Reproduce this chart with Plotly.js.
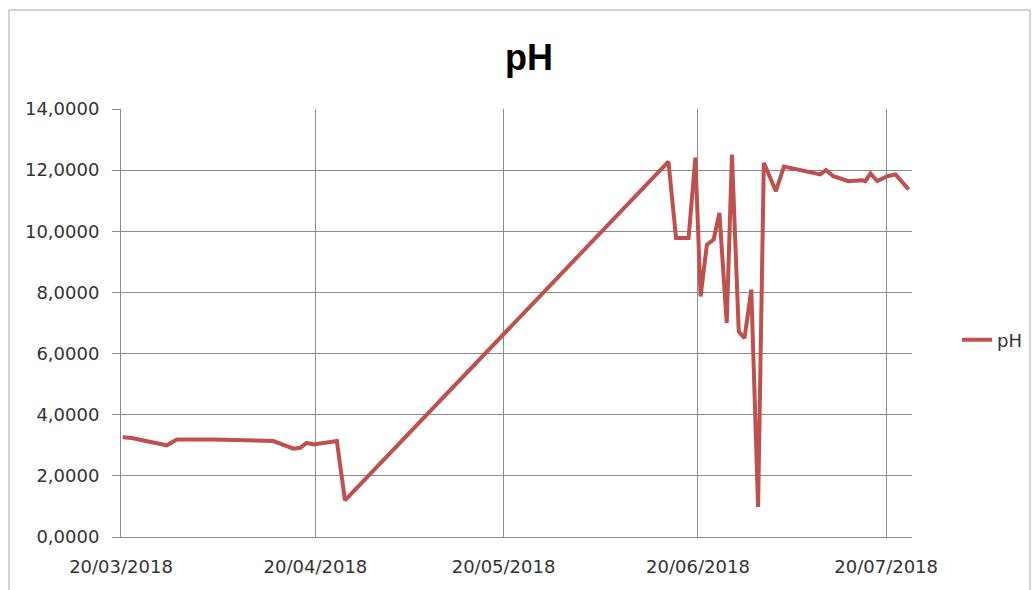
<!DOCTYPE html>
<html>
<head>
<meta charset="utf-8">
<script src="https://cdn.plot.ly/plotly-3.0.1.min.js"></script>
<style>
  html, body { margin: 0; padding: 0; background: #fff; }
  #chart { width: 1033px; height: 590px; }
</style>
</head>
<body>
<div id="chart"></div>
<script>
const dates = [
  '2018-03-20 07:00', '2018-03-21 17:00', '2018-03-27 07:00', '2018-03-28 22:00',
  '2018-04-03 17:00', '2018-04-13 07:00', '2018-04-16 12:00', '2018-04-17 14:00',
  '2018-04-18 14:00', '2018-04-19 17:00', '2018-04-23 10:00', '2018-04-24 17:00',
  '2018-06-15 07:00', '2018-06-16 12:00', '2018-06-18 12:00', '2018-06-19 14:00',
  '2018-06-20 10:00', '2018-06-21 10:00', '2018-06-22 12:00', '2018-06-23 10:00',
  '2018-06-24 14:00', '2018-06-25 10:00', '2018-06-26 12:00', '2018-06-27 10:00',
  '2018-06-28 12:00', '2018-06-29 14:00', '2018-06-30 12:00', '2018-07-02 10:00',
  '2018-07-03 17:00', '2018-07-06 07:00', '2018-07-09 12:00', '2018-07-10 10:00',
  '2018-07-11 14:00', '2018-07-14 00:00', '2018-07-16 05:00', '2018-07-16 17:00',
  '2018-07-17 12:00', '2018-07-18 14:00', '2018-07-20 05:00', '2018-07-21 12:00',
  '2018-07-23 14:00'
];
// pH values
const phValues = [
  3.26, 3.24, 3.00, 3.19,
  3.19, 3.14, 2.89, 2.92,
  3.08, 3.03, 3.14, 1.20,
  12.28, 9.78, 9.78, 12.41,
  7.87, 9.56, 9.73, 10.60,
  7.00, 12.51, 6.72, 6.50,
  8.09, 0.98, 12.24, 11.31,
  12.12, 12.00, 11.86, 12.00,
  11.80, 11.64, 11.67, 11.64,
  11.89, 11.64, 11.80, 11.86,
  11.37
];
const seriesName = 'pH';
const chartTitle = 'pH';
const yTickVals = [0, 2, 4, 6, 8, 10, 12, 14];
const yTickText = ['0,0000', '2,0000', '4,0000', '6,0000', '8,0000', '10,0000', '12,0000', '14,0000'];
const xRange = ['2018-03-20', '2018-07-24 03:00'];

const trace = {
  x: dates,
  y: phValues,
  type: 'scatter',
  mode: 'lines',
  name: seriesName,
  line: { color: '#C0504D', width: 4 }
};

const gridCol = '#8c8c8c';
const tickFont = { family: 'DejaVu Sans, Verdana, sans-serif', size: 18, color: '#333333' };

const layout = {
  width: 1033,
  height: 590,
  paper_bgcolor: '#ffffff',
  plot_bgcolor: '#ffffff',
  margin: { l: 121, r: 121, t: 109, b: 53, autoexpand: false },
  title: {
    text: '<b>' + chartTitle + '</b>',
    font: { family: 'Liberation Sans, Arial, sans-serif', size: 36, color: '#000000' },
    x: 529 / 1033,
    xref: 'container',
    xanchor: 'center',
    y: 1 - 57 / 590,
    yref: 'container',
    yanchor: 'middle'
  },
  xaxis: {
    type: 'date',
    range: xRange,
    tick0: '2018-03-20',
    dtick: 'M1',
    tickformat: '%d/%m/%Y',
    showgrid: true,
    gridcolor: gridCol,
    gridwidth: 1,
    showline: true,
    linecolor: gridCol,
    linewidth: 1,
    ticks: '',
    tickfont: tickFont,
    ticklabelstandoff: 13,
    zeroline: false,
    fixedrange: true
  },
  yaxis: {
    range: [0, 14],
    tickvals: yTickVals,
    ticktext: yTickText,
    showgrid: true,
    gridcolor: gridCol,
    gridwidth: 1,
    showline: true,
    linecolor: gridCol,
    linewidth: 1,
    ticks: 'outside',
    ticklen: 8,
    tickcolor: gridCol,
    tickfont: tickFont,
    ticklabelstandoff: 9,
    zeroline: false,
    fixedrange: true
  },
  showlegend: true,
  legend: {
    x: 1.057,
    xanchor: 'left',
    y: 0.46,
    yanchor: 'middle',
    font: { family: 'DejaVu Sans, Verdana, sans-serif', size: 18, color: '#333333' },
    bgcolor: 'rgba(0,0,0,0)'
  },
  shapes: [{
    type: 'rect',
    xref: 'paper', yref: 'paper',
    x0: (9 - 121) / 791, x1: (1030 - 121) / 791,
    y0: (537 - 600) / 428, y1: (537 - 10) / 428,
    line: { color: '#a6a6a6', width: 1 },
    fillcolor: 'rgba(0,0,0,0)',
    layer: 'below'
  }]
};

Plotly.newPlot('chart', [trace], layout, { displayModeBar: false, staticPlot: true });
</script>
</body>
</html>
